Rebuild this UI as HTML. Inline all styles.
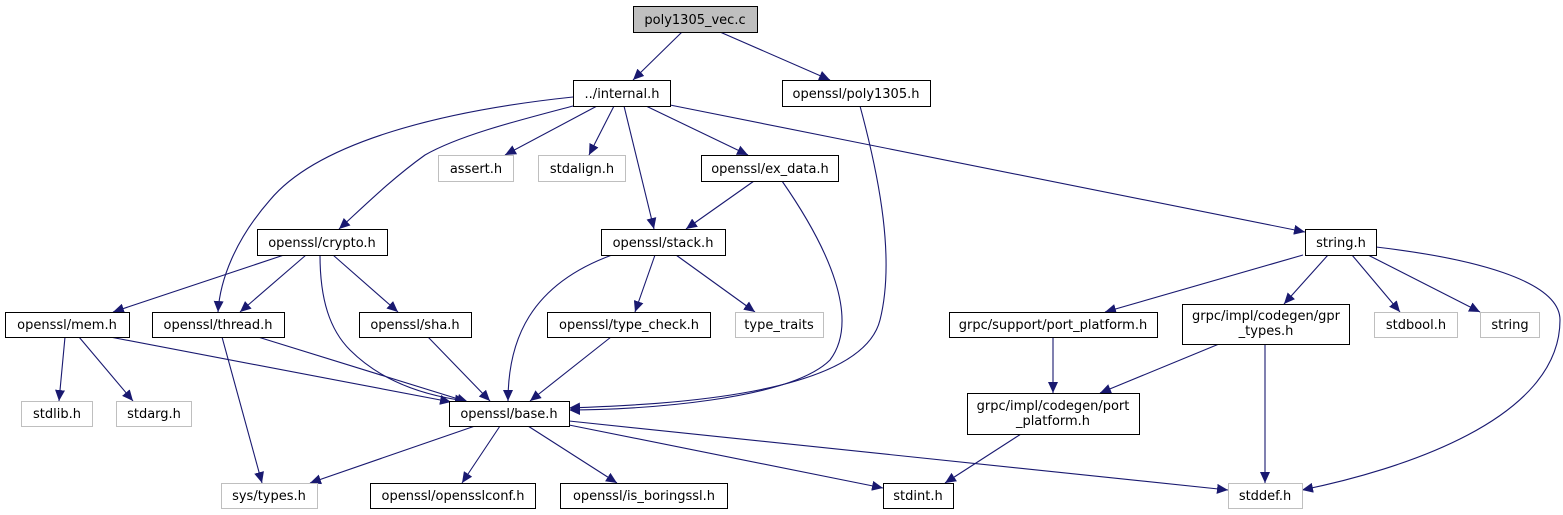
<!DOCTYPE html>
<html><head><meta charset="utf-8"><style>
html,body{margin:0;padding:0;background:#fff;}
svg{display:block;}
text{font-family:"DejaVu Sans","Liberation Sans",sans-serif;font-size:13px;fill:#000;}
.n{fill:#fff;stroke:#000;stroke-width:1;}
.g{fill:#fff;stroke:#bfbfbf;stroke-width:1;}
.e{fill:none;stroke:#191970;stroke-width:1.1;}
</style></head><body>
<svg width="1563" height="515" viewBox="0 0 1563 515">
<defs>
<marker id="a" markerUnits="userSpaceOnUse" markerWidth="12" markerHeight="10" refX="11" refY="5" orient="auto">
<path d="M0,0 L11,5 L0,10 z" fill="#191970"/>
</marker>
</defs>
<g class="e" marker-end="url(#a)">
<path d="M682,32 L633,80"/>
<path d="M720,32 L830,80"/>
<path d="M597,106 L505,155"/>
<path d="M614,106 L589,155"/>
<path d="M646,106 L748,155"/>
<path d="M624,106 L654,229"/>
<path d="M670,105 L1305,232"/>
<path d="M573,106 C520,120 460,135 425,155 C390,180 360,210 339,229"/>
<path d="M573,97 C450,110 320,140 270,200 C235,240 220,280 218,312"/>
<path d="M860,106 C880,180 895,260 880,320 C860,400 640,405 569,408"/>
<path d="M754,181 L686,229"/>
<path d="M782,181 C830,250 860,320 830,360 C790,400 640,410 569,410"/>
<path d="M284,255 L113,312"/>
<path d="M306,255 L240,312"/>
<path d="M333,255 L398,312"/>
<path d="M320,255 C320,300 330,330 350,350 C380,380 420,395 466,401"/>
<path d="M612,255 C530,285 508,340 508,401"/>
<path d="M655,255 L635,312"/>
<path d="M676,255 L755,312"/>
<path d="M65,337 L59,401"/>
<path d="M79,337 L133,401"/>
<path d="M110,337 L451,402"/>
<path d="M258,337 L468,402"/>
<path d="M222,337 L262,483"/>
<path d="M428,337 L490,401"/>
<path d="M611,337 L530,401"/>
<path d="M475,426 L310,483"/>
<path d="M500,426 L462,483"/>
<path d="M528,426 L617,483"/>
<path d="M569,425 L883,488"/>
<path d="M569,421 L1228,490"/>
<path d="M1303,255 L1105,312"/>
<path d="M1328,255 L1284,304"/>
<path d="M1352,255 L1400,312"/>
<path d="M1368,255 L1480,312"/>
<path d="M1376,247 C1470,258 1560,280 1560,320 C1560,420 1400,470 1302,490"/>
<path d="M1053,337 L1053,393"/>
<path d="M1219,344 L1100,393"/>
<path d="M1265,344 L1265,483"/>
<path d="M1021,434 L945,483"/>
</g>
<g>
<rect x="633.5" y="6.5" width="124" height="26" fill="#bfbfbf" stroke="#000"/>
<rect class="n" x="573.5" y="80.5" width="97" height="26"/>
<rect class="n" x="782.5" y="80.5" width="148" height="26"/>
<rect class="g" x="438.5" y="155.5" width="75" height="26"/>
<rect class="g" x="538.5" y="155.5" width="87" height="26"/>
<rect class="n" x="701.5" y="155.5" width="137" height="26"/>
<rect class="n" x="257.5" y="229.5" width="130" height="26"/>
<rect class="n" x="601.5" y="229.5" width="124" height="26"/>
<rect class="n" x="1305.5" y="229.5" width="71" height="26"/>
<rect class="n" x="5.5" y="312.5" width="124" height="25"/>
<rect class="n" x="152.5" y="312.5" width="132" height="25"/>
<rect class="n" x="359.5" y="312.5" width="112" height="25"/>
<rect class="n" x="547.5" y="312.5" width="163" height="25"/>
<rect class="g" x="735.5" y="312.5" width="88" height="25"/>
<rect class="n" x="949.5" y="312.5" width="208" height="25"/>
<rect class="n" x="1182.5" y="304.5" width="167" height="40"/>
<rect class="g" x="1374.5" y="312.5" width="83" height="25"/>
<rect class="g" x="1480.5" y="312.5" width="59" height="25"/>
<rect class="g" x="21.5" y="401.5" width="71" height="25"/>
<rect class="g" x="116.5" y="401.5" width="75" height="25"/>
<rect class="n" x="449.5" y="401.5" width="120" height="25"/>
<rect class="n" x="967.5" y="393.5" width="172" height="41"/>
<rect class="g" x="221.5" y="483.5" width="96" height="25"/>
<rect class="n" x="370.5" y="483.5" width="165" height="25"/>
<rect class="n" x="560.5" y="483.5" width="167" height="25"/>
<rect class="n" x="883.5" y="483.5" width="70" height="25"/>
<rect class="g" x="1228.5" y="483.5" width="74" height="25"/>
</g>
<g text-anchor="middle">
<text x="695" y="24">poly1305_vec.c</text>
<text x="622" y="98">../internal.h</text>
<text x="856" y="98">openssl/poly1305.h</text>
<text x="476" y="173">assert.h</text>
<text x="582" y="173">stdalign.h</text>
<text x="770" y="173">openssl/ex_data.h</text>
<text x="322" y="247">openssl/crypto.h</text>
<text x="663" y="247">openssl/stack.h</text>
<text x="1341" y="247">string.h</text>
<text x="67" y="329">openssl/mem.h</text>
<text x="218" y="329">openssl/thread.h</text>
<text x="415" y="329">openssl/sha.h</text>
<text x="629" y="329">openssl/type_check.h</text>
<text x="779" y="329">type_traits</text>
<text x="1053" y="329">grpc/support/port_platform.h</text>
<text x="1266" y="320">grpc/impl/codegen/gpr</text>
<text x="1266" y="335">_types.h</text>
<text x="1416" y="329">stdbool.h</text>
<text x="1510" y="329">string</text>
<text x="57" y="418">stdlib.h</text>
<text x="154" y="418">stdarg.h</text>
<text x="509" y="418">openssl/base.h</text>
<text x="1053" y="410">grpc/impl/codegen/port</text>
<text x="1053" y="425">_platform.h</text>
<text x="269" y="500">sys/types.h</text>
<text x="453" y="500">openssl/opensslconf.h</text>
<text x="644" y="500">openssl/is_boringssl.h</text>
<text x="918" y="500">stdint.h</text>
<text x="1265" y="500">stddef.h</text>
</g>
</svg>
</body></html>
